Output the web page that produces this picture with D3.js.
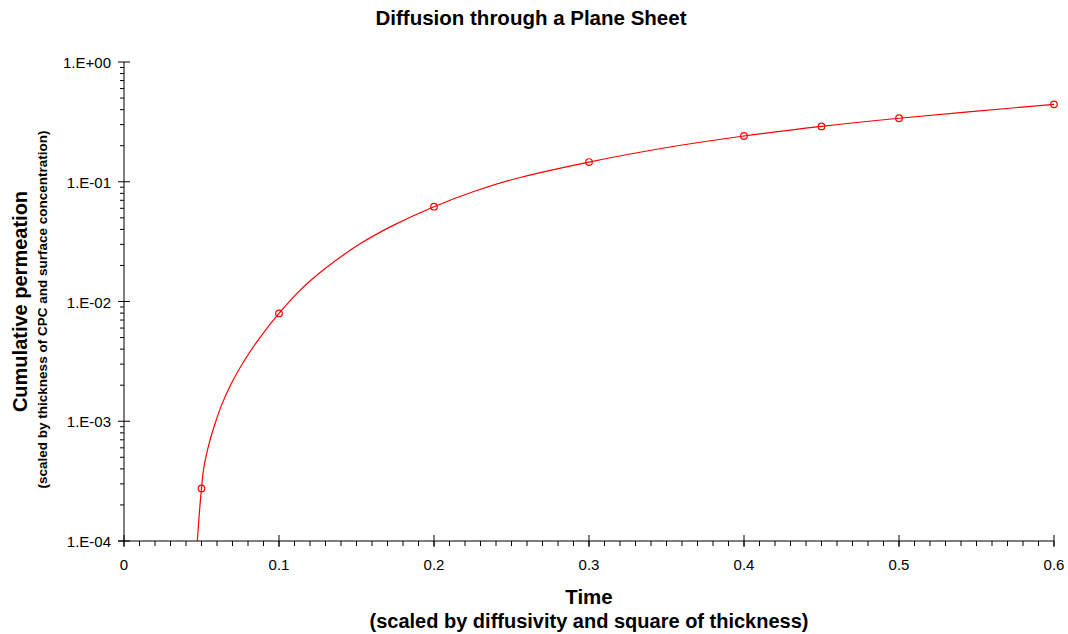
<!DOCTYPE html>
<html>
<head>
<meta charset="utf-8">
<script src="https://cdn.jsdelivr.net/npm/d3@7"></script>
<style>
  body { margin: 0; background: #fff; }
  svg { display: block; font-family: "Liberation Sans", Arial, sans-serif; }
</style>
</head>
<body>
<svg id="chart" width="1068" height="634"></svg>
<script>
// curve (time, cumulative permeation)
const curveT = [0.0473, 0.0486, 0.05, 0.0516, 0.0555, 0.0587, 0.063, 0.0695, 0.0781, 0.0877, 0.1,
                0.1135, 0.1308, 0.1523, 0.1737, 0.2, 0.2275, 0.2512, 0.3, 0.3523, 0.4, 0.45, 0.5, 0.6];
const curveV = [1.0e-4, 1.7e-4, 2.75e-4, 4.17e-4, 6.96e-4, 9.5e-4, 1.37e-3, 2.1e-3, 3.28e-3, 5.0e-3, 7.95e-3,
                0.0124, 0.0193, 0.0303, 0.0432, 0.0619, 0.0845, 0.105, 0.146, 0.195, 0.241, 0.29, 0.339, 0.443];

// marked points
const markT = [0.05, 0.1, 0.2, 0.3, 0.4, 0.45, 0.5, 0.6];
const markV = [2.75e-4, 7.95e-3, 0.0619, 0.146, 0.241, 0.29, 0.339, 0.443];

const xTicks = [0, 0.1, 0.2, 0.3, 0.4, 0.5, 0.6];
const yTicks = [1e-4, 1e-3, 1e-2, 1e-1, 1];
const yTickLabels = ["1.E-04", "1.E-03", "1.E-02", "1.E-01", "1.E+00"];

const svg = d3.select("#chart");
const plotL = 124, plotR = 1054, plotT = 62, plotB = 541;

const x = d3.scaleLinear().domain([0, 0.6]).range([plotL, plotR]);
const y = d3.scaleLog().domain([1e-4, 1]).range([plotB, plotT]);

svg.append("defs").append("clipPath").attr("id", "plot")
  .append("rect").attr("x", plotL).attr("y", plotT).attr("width", plotR - plotL).attr("height", plotB - plotT);

// title
svg.append("text")
  .attr("x", 531).attr("y", 25)
  .attr("text-anchor", "middle")
  .attr("font-size", "20.5px").attr("font-weight", "bold")
  .text("Diffusion through a Plane Sheet");

// x axis: minor ticks every 0.01 going down, major ticks crossing the line
const xMinor = d3.range(0, 61).map(i => i / 100);
const gx = svg.append("g").attr("stroke", "#000");
gx.append("line").attr("x1", plotL - 6).attr("x2", plotR).attr("y1", plotB).attr("y2", plotB);
gx.selectAll(".xm").data(xMinor).join("line")
  .attr("x1", d => x(d)).attr("x2", d => x(d))
  .attr("y1", plotB).attr("y2", plotB + 5);
gx.selectAll(".xM").data(xTicks).join("line")
  .attr("x1", d => x(d)).attr("x2", d => x(d))
  .attr("y1", plotB - 6).attr("y2", plotB + 6);
svg.selectAll(".xl").data(xTicks).join("text")
  .attr("x", d => x(d)).attr("y", 570)
  .attr("text-anchor", "middle")
  .attr("font-size", "15px")
  .text(d => d === 0 ? "0" : d3.format(".1f")(d));

// y axis: log minor ticks to the left
const yMinor = [];
yTicks.slice(0, -1).forEach(d => { for (let k = 2; k <= 9; k++) yMinor.push(d * k); });
const gy = svg.append("g").attr("stroke", "#000");
gy.append("line").attr("x1", plotL).attr("x2", plotL).attr("y1", plotT).attr("y2", plotB);
gy.selectAll(".ym").data(yMinor).join("line")
  .attr("x1", plotL - 4).attr("x2", plotL)
  .attr("y1", d => y(d)).attr("y2", d => y(d));
gy.selectAll(".yM").data(yTicks).join("line")
  .attr("x1", plotL - 6).attr("x2", plotL + 6)
  .attr("y1", d => y(d)).attr("y2", d => y(d));
svg.selectAll(".yl").data(yTicks).join("text")
  .attr("x", 111).attr("y", d => y(d) + 6)
  .attr("text-anchor", "end")
  .attr("font-size", "15px")
  .text((d, i) => yTickLabels[i]);

// axis titles
svg.append("text")
  .attr("x", (plotL + plotR) / 2).attr("y", 604)
  .attr("text-anchor", "middle")
  .attr("font-size", "20.5px").attr("font-weight", "bold")
  .text("Time");
svg.append("text")
  .attr("x", (plotL + plotR) / 2).attr("y", 628)
  .attr("text-anchor", "middle")
  .attr("font-size", "20px").attr("font-weight", "bold")
  .text("(scaled by diffusivity and square of thickness)");

const yMid = (plotT + plotB) / 2;
svg.append("text")
  .attr("transform", `translate(27,${yMid}) rotate(-90)`)
  .attr("text-anchor", "middle")
  .attr("font-size", "20px").attr("font-weight", "bold")
  .text("Cumulative permeation");
svg.append("text")
  .attr("transform", `translate(47,${yMid + 8}) rotate(-90)`)
  .attr("text-anchor", "middle")
  .attr("font-size", "13.5px").attr("font-weight", "bold")
  .text("(scaled by thickness of CPC and surface concentration)");

// curve
const curve = curveT.map((t, i) => [t, curveV[i]]);
svg.append("path")
  .datum(curve)
  .attr("clip-path", "url(#plot)")
  .attr("fill", "none")
  .attr("stroke", "#ff0000")
  .attr("stroke-width", 1.2)
  .attr("d", d3.line().x(d => x(d[0])).y(d => y(d[1])).curve(d3.curveCatmullRom.alpha(0.5)));

// markers
svg.selectAll(".mk").data(markT).join("circle")
  .attr("cx", d => x(d))
  .attr("cy", (d, i) => y(markV[i]))
  .attr("r", 3.3)
  .attr("fill", "none")
  .attr("stroke", "#ff0000")
  .attr("stroke-width", 1.2);
</script>
</body>
</html>
